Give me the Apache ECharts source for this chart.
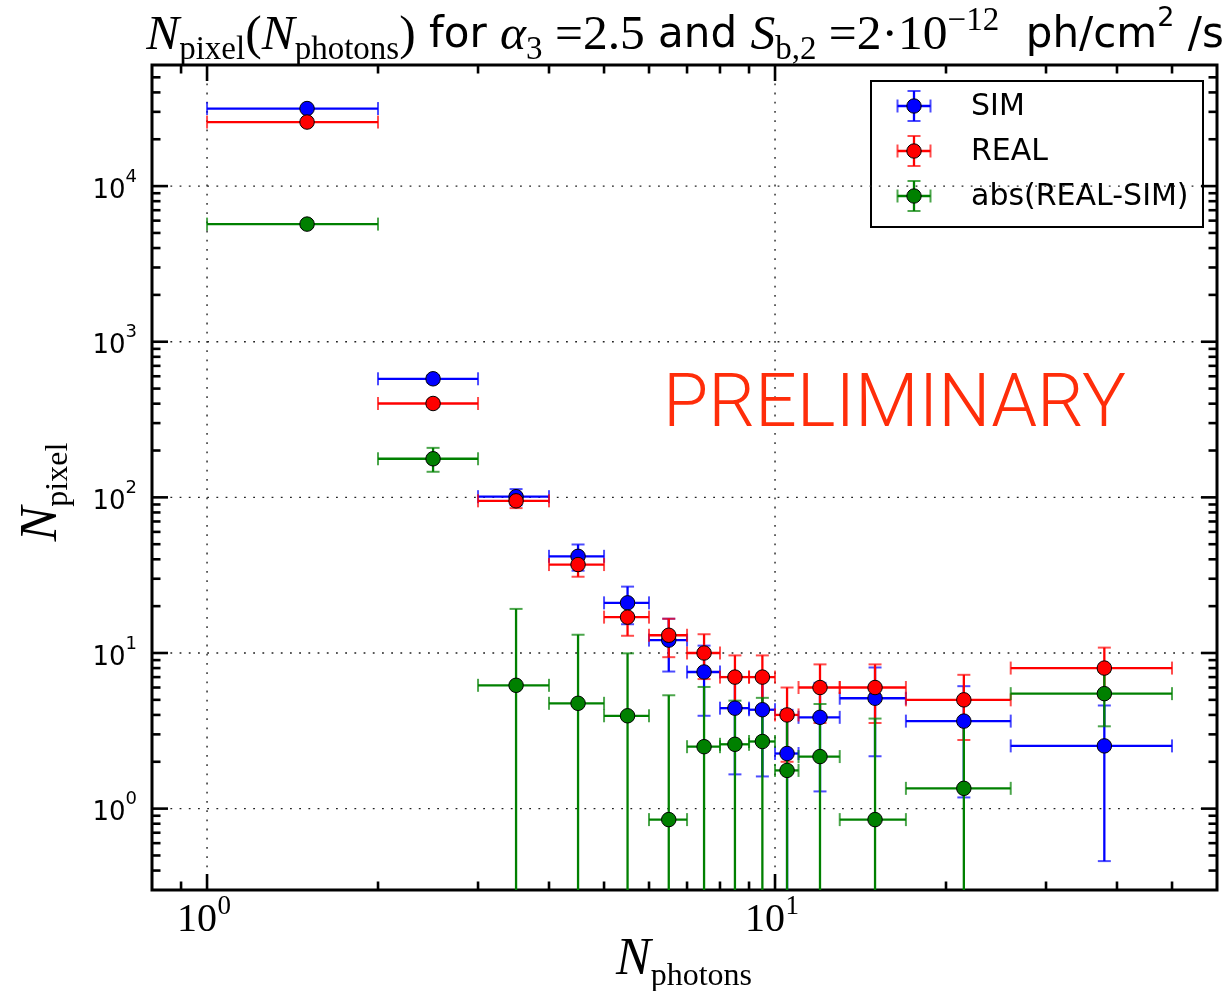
<!DOCTYPE html>
<html>
<head>
<meta charset="utf-8">
<script src="https://cdn.jsdelivr.net/npm/echarts@6/dist/echarts.min.js"></script>
<style>
  html, body { margin: 0; padding: 0; background: #fff; }
  #chart { width: 1228px; height: 991px; }
</style>
</head>
<body>
<div id="chart"></div>
<script>
// Photon-count bins (edges and centres)
const binLow    = [1, 2, 3, 4, 5, 6, 7, 8, 9, 10, 11, 13, 17, 26];
const binHigh   = [2, 3, 4, 5, 6, 7, 8, 9, 10, 11, 13, 17, 26, 50];
const binCenter = [1.5, 2.5, 3.5, 4.5, 5.5, 6.5, 7.5, 8.5, 9.5, 10.5, 12, 15, 21.5, 38];

// Pixel counts per bin
const simValues  = [31500, 578, 101, 41.8, 21.0, 12.1, 7.55, 4.42, 4.32, 2.26, 3.86, 5.12, 3.65, 2.53];
const simErrors  = [200, 30, 12, 8.0, 5.7, 4.5, 3.6, 2.76, 2.71, 2.05, 2.57, 2.95, 2.47, 2.07];
const realValues = [25800, 401, 95, 37, 17, 13, 10, 7, 7, 4, 6, 6, 5, 8];
const realErrors = [161, 20, 9.7, 6.1, 4.1, 3.6, 3.2, 2.65, 2.65, 2.0, 2.45, 2.45, 2.24, 2.83];
const diffValues = [5700, 177, 6.2, 4.75, 3.95, 0.85, 2.5, 2.59, 2.7, 1.76, 2.16, 0.85, 1.35, 5.48];
const diffErrors = [250, 31, 13, 8.35, 6.0, 4.5, 3.55, 2.35, 2.45, 2.3, 2.54, 2.94, 2.35, 2.1];

// Series names and colours
const seriesNames  = ['SIM', 'REAL', 'abs(REAL-SIM)'];
const seriesColors = ['#0000ff', '#ff0000', '#008000'];

// Axis ranges
const xRange = [0.8, 60];
const yRange = [0.3, 60000];

const SERIF = '"Liberation Serif", "DejaVu Serif", serif';
const SANS  = '"DejaVu Sans", "Liberation Sans", sans-serif';

const chart = echarts.init(document.getElementById('chart'), null, { renderer: 'canvas' });

function isDecade(v) {
  const e = Math.log10(v);
  return Math.abs(e - Math.round(e)) < 1e-6;
}

// Major (1·10^k) and minor (2..9·10^k) tick positions inside a log range
function logTickPositions(lo, hi) {
  const out = [];
  for (let d = Math.floor(Math.log10(lo)); d <= Math.ceil(Math.log10(hi)); d++) {
    for (let m = 1; m <= 9; m++) {
      const v = m * Math.pow(10, d);
      if (v > lo * 1.0001 && v < hi * 0.9999) out.push({ v: v, major: m === 1 ? 1 : 0 });
    }
  }
  return out;
}

const xTickData = logTickPositions(xRange[0], xRange[1]).map(t => [t.v, 1, t.major]);
const yTickData = logTickPositions(yRange[0], yRange[1]).map(t => [1, t.v, t.major]);

const TICK_MAJOR = 16, TICK_MINOR = 8.5, TICK_W = 2.6;
const GRID_DASH = { stroke: '#222', lineWidth: 1.4, lineDash: [1.8, 7.4] };

function renderXTicks(params, api) {
  const cs = params.coordSys;
  const v = api.value(0);
  const x = api.coord([v, 1])[0];
  const major = api.value(2) === 1;
  const len = major ? TICK_MAJOR : TICK_MINOR;
  const bottom = cs.y + cs.height;
  const children = [];
  if (major) {
    children.push({ type: 'line', z2: 0, shape: { x1: x, y1: cs.y, x2: x, y2: bottom }, style: GRID_DASH });
    // serif power-of-ten label: "10" with a raised exponent
    children.push({ type: 'text', z2: 10, style: {
      x: x - 10, y: bottom + 30, text: '10', fontFamily: SERIF, fontSize: 40, fill: '#000',
      align: 'center', verticalAlign: 'middle' } });
    children.push({ type: 'text', z2: 10, style: {
      x: x + 10.5, y: bottom + 17, text: String(Math.round(Math.log10(v))), fontFamily: SERIF, fontSize: 27, fill: '#000',
      align: 'left', verticalAlign: 'middle' } });
  }
  children.push({ type: 'line', z2: 10, shape: { x1: x, y1: bottom, x2: x, y2: bottom - len }, style: { stroke: '#000', lineWidth: TICK_W } });
  children.push({ type: 'line', z2: 10, shape: { x1: x, y1: cs.y, x2: x, y2: cs.y + len }, style: { stroke: '#000', lineWidth: TICK_W } });
  return { type: 'group', children: children };
}

function renderYTicks(params, api) {
  const cs = params.coordSys;
  const y = api.coord([1, api.value(1)])[1];
  const major = api.value(2) === 1;
  const len = major ? TICK_MAJOR : TICK_MINOR;
  const right = cs.x + cs.width;
  const children = [];
  if (major) {
    children.push({ type: 'line', z2: 0, shape: { x1: cs.x, y1: y, x2: right, y2: y }, style: GRID_DASH });
  }
  children.push({ type: 'line', z2: 10, shape: { x1: cs.x, y1: y, x2: cs.x + len, y2: y }, style: { stroke: '#000', lineWidth: TICK_W } });
  children.push({ type: 'line', z2: 10, shape: { x1: right, y1: y, x2: right - len, y2: y }, style: { stroke: '#000', lineWidth: TICK_W } });
  return { type: 'group', children: children };
}

const CAP = 6.5;

// Horizontal bin-width bar plus vertical count-error bar, with caps
function makeErrorRenderer(color) {
  return function (params, api) {
    const cs = params.coordSys;
    const x = api.value(0), y = api.value(1);
    const xlo = api.value(2), xhi = api.value(3), err = api.value(4);
    const c = api.coord([x, y]);
    const left = api.coord([xlo, y])[0];
    const right = api.coord([xhi, y])[0];
    const bottomEdge = cs.y + cs.height;
    const hiVal = y + err, loVal = y - err;
    const yTop = Math.max(api.coord([x, hiVal])[1], cs.y);
    let yBot = bottomEdge, lowCap = false;
    if (loVal > 0) {
      const p = api.coord([x, loVal])[1];
      if (p < bottomEdge) { yBot = p; lowCap = true; }
    }
    const bar = { stroke: color, lineWidth: 2.3 };
    const cap = { stroke: color, lineWidth: 2, opacity: 0.7 };
    const children = [
      { type: 'line', shape: { x1: left, y1: c[1], x2: right, y2: c[1] }, style: bar },
      { type: 'line', shape: { x1: c[0], y1: yTop, x2: c[0], y2: yBot }, style: bar },
      { type: 'line', shape: { x1: left, y1: c[1] - CAP, x2: left, y2: c[1] + CAP }, style: cap },
      { type: 'line', shape: { x1: right, y1: c[1] - CAP, x2: right, y2: c[1] + CAP }, style: cap },
      { type: 'line', shape: { x1: c[0] - CAP, y1: yTop, x2: c[0] + CAP, y2: yTop }, style: cap }
    ];
    if (lowCap) {
      children.push({ type: 'line', shape: { x1: c[0] - CAP, y1: yBot, x2: c[0] + CAP, y2: yBot }, style: cap });
    }
    return { type: 'group', children: children };
  };
}

const valueSets = [simValues, realValues, diffValues];
const errorSets = [simErrors, realErrors, diffErrors];

const errorSeries = valueSets.map((vals, k) => ({
  type: 'custom',
  name: seriesNames[k] + ' errors',
  coordinateSystem: 'cartesian2d',
  renderItem: makeErrorRenderer(seriesColors[k]),
  data: binCenter.map((x, i) => [x, vals[i], binLow[i], binHigh[i], errorSets[k][i]]),
  encode: { x: 0, y: 1 },
  silent: true,
  z: 3
}));

const markerSeries = valueSets.map((vals, k) => ({
  type: 'scatter',
  name: seriesNames[k],
  data: binCenter.map((x, i) => [x, vals[i]]),
  symbol: 'circle',
  symbolSize: 14.5,
  itemStyle: { color: seriesColors[k], borderColor: '#000', borderWidth: 1, opacity: 1 },
  silent: true,
  z: 4
}));

// Legend drawn as error-bar glyphs in a framed box
const legendBox = { x: 871, y: 81, w: 332, h: 146 };
const legendRows = [106, 151, 196];
const legendChildren = [
  { type: 'rect', shape: { x: legendBox.x, y: legendBox.y, width: legendBox.w, height: legendBox.h },
    style: { fill: '#fff', stroke: '#000', lineWidth: 2 } }
];
seriesNames.forEach((name, k) => {
  const cy = legendRows[k], cx = 914, col = seriesColors[k];
  const bar = { stroke: col, lineWidth: 2.3 };
  const cap = { stroke: col, lineWidth: 2, opacity: 0.7 };
  legendChildren.push(
    { type: 'line', shape: { x1: cx - 16.5, y1: cy, x2: cx + 16.5, y2: cy }, style: bar },
    { type: 'line', shape: { x1: cx, y1: cy - 15, x2: cx, y2: cy + 15 }, style: bar },
    { type: 'line', shape: { x1: cx - 16.5, y1: cy - CAP, x2: cx - 16.5, y2: cy + CAP }, style: cap },
    { type: 'line', shape: { x1: cx + 16.5, y1: cy - CAP, x2: cx + 16.5, y2: cy + CAP }, style: cap },
    { type: 'line', shape: { x1: cx - CAP, y1: cy - 15, x2: cx + CAP, y2: cy - 15 }, style: cap },
    { type: 'line', shape: { x1: cx - CAP, y1: cy + 15, x2: cx + CAP, y2: cy + 15 }, style: cap },
    { type: 'circle', shape: { cx: cx, cy: cy, r: 7.2 }, style: { fill: col, stroke: '#000', lineWidth: 1 } },
    { type: 'text', style: { x: 971, y: cy + 1, text: name, fontFamily: SANS, fontSize: 30, fill: '#000', verticalAlign: 'middle', align: 'left' } }
  );
});

const mathRich = {
  mi:   { fontFamily: SERIF, fontStyle: 'italic', fontSize: 49.5, lineHeight: 62, verticalAlign: 'middle', fill: '#000' },
  rm:   { fontFamily: SERIF, fontSize: 49.5, lineHeight: 62, verticalAlign: 'middle', fill: '#000' },
  sb:   { fontFamily: SERIF, fontSize: 33, lineHeight: 30, verticalAlign: 'bottom', fill: '#000' },
  sp:   { fontFamily: SERIF, fontSize: 33, lineHeight: 34, verticalAlign: 'top', fill: '#000' },
  sf:   { fontFamily: SANS, fontSize: 42, lineHeight: 62, verticalAlign: 'middle', fill: '#000' },
  sfsp: { fontFamily: SANS, fontSize: 27, lineHeight: 40, verticalAlign: 'top', fill: '#000' }
};

const labelRich = {
  mi: { fontFamily: SERIF, fontStyle: 'italic', fontSize: 52, lineHeight: 66, verticalAlign: 'middle', fill: '#000' },
  sb: { fontFamily: SERIF, fontSize: 32, lineHeight: 32, verticalAlign: 'bottom', fill: '#000' }
};

const option = {
  animation: false,
  backgroundColor: '#fff',
  grid: {
    left: 152, top: 65, right: 11, bottom: 101,
    show: true, borderColor: '#000', borderWidth: 3, backgroundColor: 'transparent'
  },
  xAxis: {
    type: 'log', logBase: 10, min: xRange[0], max: xRange[1],
    axisLine: { show: false }, axisTick: { show: false }, splitLine: { show: false },
    axisLabel: { show: false }
  },
  yAxis: {
    type: 'log', logBase: 10, min: yRange[0], max: yRange[1],
    axisLine: { show: false }, axisTick: { show: false }, splitLine: { show: false },
    axisLabel: {
      margin: 15,
      formatter: v => isDecade(v) ? '{b|10}{s|' + Math.round(Math.log10(v)) + '}' : '',
      rich: {
        b: { fontFamily: SANS, fontSize: 26, color: '#000', lineHeight: 36, verticalAlign: 'bottom' },
        s: { fontFamily: SANS, fontSize: 18, color: '#000', lineHeight: 36, verticalAlign: 'top' }
      }
    }
  },
  series: [
    { type: 'custom', name: 'x ticks', coordinateSystem: 'cartesian2d', renderItem: renderXTicks,
      data: xTickData, encode: { x: 0, y: 1 }, silent: true, z: 1, clip: false },
    { type: 'custom', name: 'y ticks', coordinateSystem: 'cartesian2d', renderItem: renderYTicks,
      data: yTickData, encode: { x: 0, y: 1 }, silent: true, z: 1 }
  ].concat(errorSeries, markerSeries),
  graphic: [
    { type: 'text', z: 20, x: 685, y: 36,
      style: {
        text: '{mi|N}{sb|pixel}{rm|(}{mi|N}{sb|photons}{rm|)}{sf| for }{mi|α}{sb|3}{rm| =2.5}{sf| and }{mi|S}{sb|b,2}{rm| =2·10}{sp|−12}{sf|  ph/cm}{sfsp|2}{sf| /s}',
        rich: mathRich, align: 'center', verticalAlign: 'middle'
      } },
    { type: 'text', z: 20, x: 684, y: 960,
      style: { text: '{mi|N}{sb|photons}', rich: labelRich, align: 'center', verticalAlign: 'middle' } },
    { type: 'text', z: 20, x: 42, y: 492, rotation: Math.PI / 2,
      style: { text: '{mi|N}{sb|pixel}', rich: labelRich, align: 'center', verticalAlign: 'middle' } },
    { type: 'text', z: 20, x: 663, y: 408,
      style: { text: 'PRELIMINARY', fontFamily: 'Roboto, "Liberation Sans", sans-serif', fontWeight: 300,
               fontSize: 73.5, fill: '#ff2d0a', align: 'left', verticalAlign: 'middle' } },
    { type: 'group', z: 30, children: legendChildren }
  ]
};

chart.setOption(option);
</script>
</body>
</html>
